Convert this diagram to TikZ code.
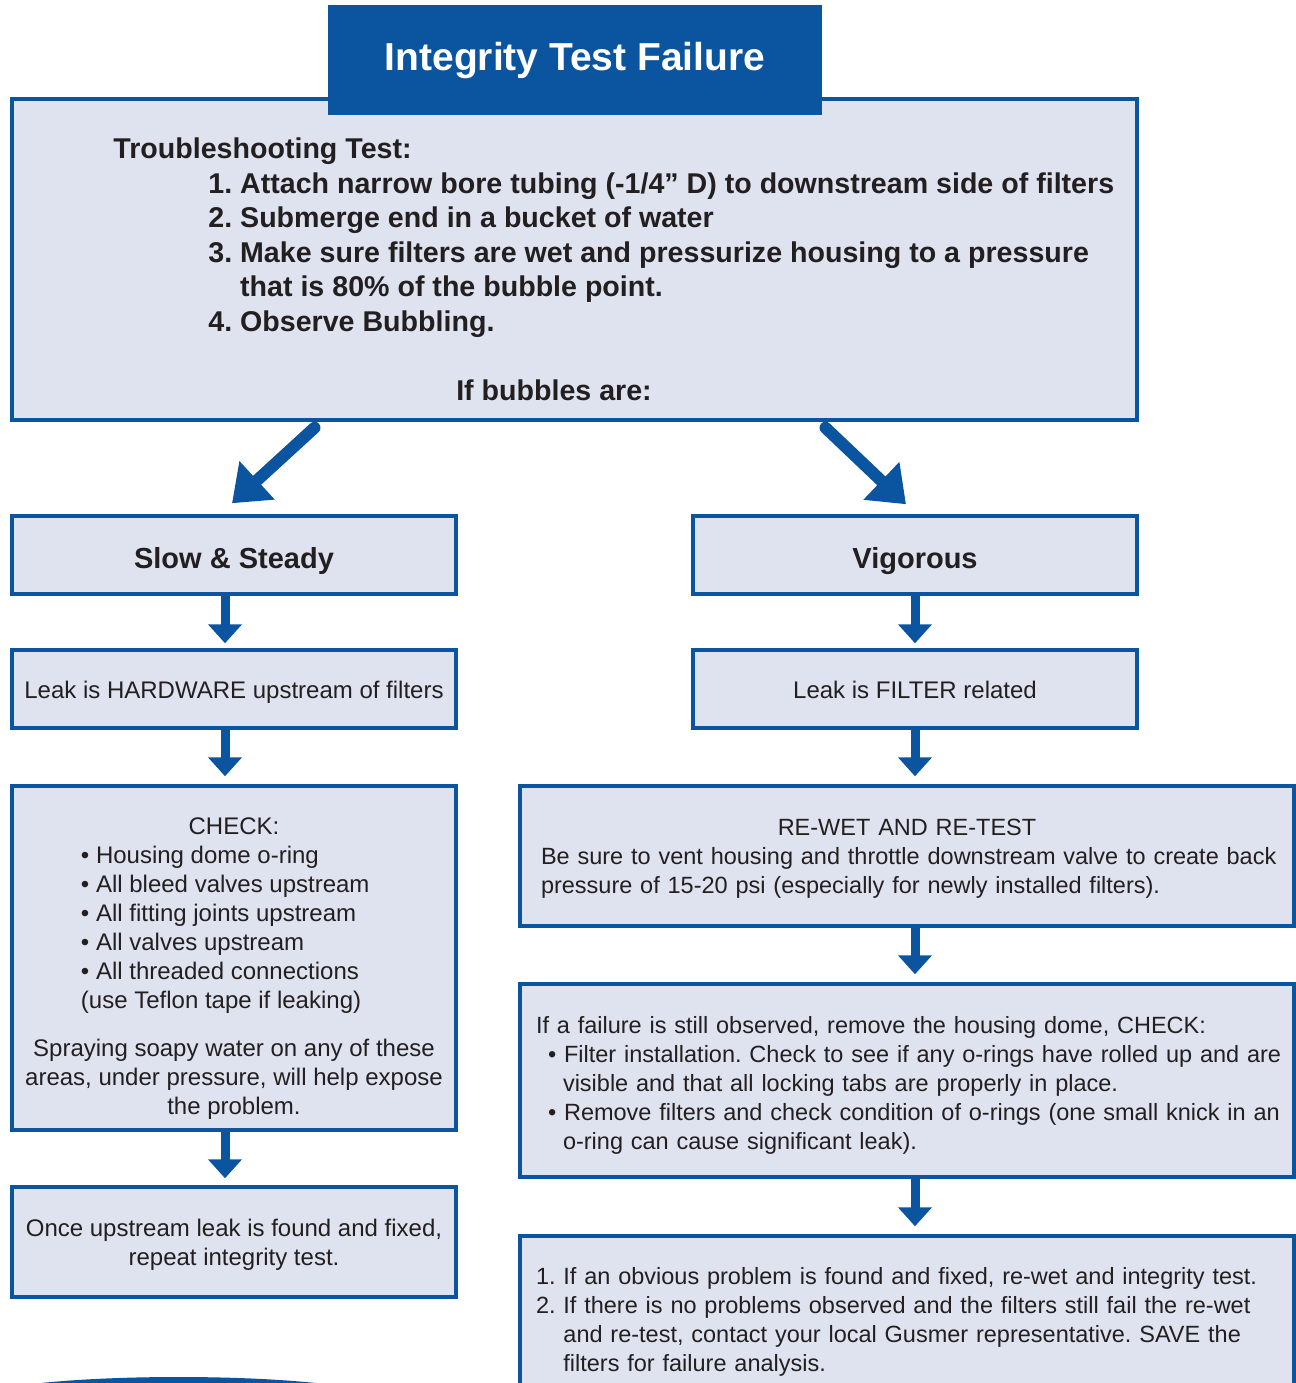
\documentclass[tikz,border=0pt]{standalone}
\usepackage{fontspec}
\setmainfont{Liberation Sans}
\usepackage{xcolor}
\usepackage{tikz}
\usetikzlibrary{arrows.meta,positioning,calc}
\definecolor{gusmerblue}{RGB}{11,84,160}
\definecolor{gusmerpale}{RGB}{223,227,239}
\definecolor{gusmertext}{RGB}{35,31,32}
\newcommand{\checkline}[1]{\makebox[153pt][l]{#1}}
\tikzset{
    block/.style={rectangle, draw=gusmerblue, line width=1.75pt, fill=gusmerpale, text=gusmertext, inner sep=0pt, minimum width=222pt, align=center, font=\fontsize{12}{14.5}\selectfont},
    single/.style={block, minimum height=39pt, text height=9.6pt, text depth=0pt},
    wideblock/.style={block, minimum width=387pt, align=left, font=\fontsize{11.75}{14.5}\selectfont},
    choice/.style={block, minimum height=39pt, text height=13.5pt, text depth=0pt, font=\fontsize{14.5}{17}\selectfont\bfseries},
    banner/.style={rectangle, fill=gusmerblue, text=white, minimum width=247pt, minimum height=55pt, font=\fontsize{19.5}{23}\selectfont\bfseries},
    boldtext/.style={inner sep=0pt, text=gusmertext, font=\fontsize{14.3}{17.25}\selectfont\bfseries},
    split/.style={draw=gusmerblue, line width=6pt, line cap=round, -{Triangle[length=17pt,width=25pt]}},
    line/.style={draw=gusmerblue, line width=4.5pt, -{Triangle[length=9.5pt,width=16.5pt]}}
}

\begin{document}
\frenchspacing
\begin{tikzpicture}[x=0.5pt, y=-0.5pt]
    \useasboundingbox (0,0) rectangle (1296,1383);
    \clip (0,0) rectangle (1296,1383);

    % Troubleshooting box and banner
    \node [block, minimum width=562.5pt, minimum height=160.5pt] (test) at (574.5,259.5) {};
    \node [banner] (title) at (575,60) {Integrity Test Failure};
    \node [boldtext, anchor=base west] (tshead) at (113,158) {Troubleshooting Test:};
    \node [boldtext, anchor=base west] (tsteps) at (208,193) {\begin{tabular}[t]{@{}l@{}}
        1.~Attach narrow bore tubing (-1/4” D) to downstream side of filters\\
        2.~Submerge end in a bucket of water\\
        3.~Make sure filters are wet and pressurize housing to a pressure\\
        \phantom{3.~}that is 80\% of the bubble point.\\
        4.~Observe Bubbling.
    \end{tabular}};
    \node [boldtext, anchor=base] (bubbles) at (554,400) {If bubbles are:};

    % Slow and steady branch
    \node [choice] (slow) at (234,555) {Slow \& Steady};
    \node [single] (hardware) at (234,689) {Leak is HARDWARE upstream of filters};
    \node [block, minimum height=172pt] (check) at (234,958) {\rule{0pt}{19pt}CHECK:\\
        \checkline{• Housing dome o-ring}\\
        \checkline{• All bleed valves upstream}\\
        \checkline{• All fitting joints upstream}\\
        \checkline{• All valves upstream}\\
        \checkline{• All threaded connections}\\
        \checkline{(use Teflon tape if leaking)}\\[9.5pt]
        Spraying soapy water on any of these\\
        areas, under pressure, will help expose\\
        the problem.};
    \node [block, minimum height=55pt] (once) at (234,1242) {\rule{0pt}{11.5pt}Once upstream leak is found and fixed,\\repeat integrity test.};

    % Vigorous branch
    \node [choice] (vigorous) at (915,555) {Vigorous};
    \node [single] (filter) at (915,689) {Leak is FILTER related};
    \node [wideblock, minimum height=70pt, text width=366pt] (rewet) at (907,856) {\rule{0pt}{10.5pt}\makebox[366pt][c]{RE-WET AND RE-TEST}\\
        \mbox{Be sure to vent housing and throttle downstream valve to create back}\\
        pressure of 15-20 psi (especially for newly installed filters).};
    \node [wideblock, minimum height=96.5pt, text width=371pt] (dome) at (907,1080.5) {\rule{0pt}{13pt}\mbox{If a failure is still observed, remove the housing dome, CHECK:}\\
        \mbox{\hspace*{6pt}• Filter installation. Check to see if any o-rings have rolled up and are}\\
        \mbox{\hspace*{13.5pt}visible and that all locking tabs are properly in place.}\\
        \mbox{\hspace*{6pt}• Remove filters and check condition of o-rings (one small knick in an}\\
        \mbox{\hspace*{13.5pt}o-ring can cause significant leak).}};
    \node [wideblock, minimum height=83.5pt, text width=371pt] (final) at (907,1319.5) {\rule{0pt}{10.5pt}1.~If an obvious problem is found and fixed, re-wet and integrity test.\\
        2.~If there is no problems observed and the filters still fail the re-wet\\
        \phantom{2.~}and re-test, contact your local Gusmer representative. SAVE the\\
        \phantom{2.~}filters for failure analysis.};

    % Bottom shape
    \fill [gusmerblue] (178.5,1399) ellipse [x radius=100pt, y radius=11pt];

    % Bubble arrows
    \path [split] ($(test.south)+(-260,6)$) -- ($(slow.north)+(-2,-11)$);
    \path [split] ($(test.south)+(251,6)$) -- ($(vigorous.north)+(-9,-10)$);

    % Step arrows
    \path [line] ($(slow.south)+(-9,0)$) -- ($(hardware.north)+(-9,-5)$);
    \path [line] ($(hardware.south)+(-9,0)$) -- ($(check.north)+(-9,-8)$);
    \path [line] ($(check.south)+(-9,0)$) -- ($(once.north)+(-9,-7)$);
    \path [line] (vigorous.south) -- ($(filter.north)+(0,-5)$);
    \path [line] (filter.south) -- ($(rewet.north)+(8,-8)$);
    \path [line] ($(rewet.south)+(8,0)$) -- ($(dome.north)+(8,-8)$);
    \path [line] ($(dome.south)+(8,0)$) -- ($(final.north)+(8,-8)$);
\end{tikzpicture}
\end{document}
